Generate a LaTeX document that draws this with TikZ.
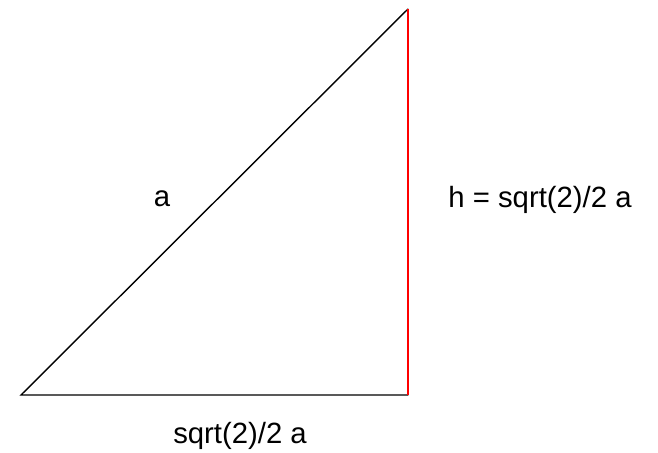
\documentclass[tikz,border=0pt]{standalone}
\usepackage{fontspec}
\setmainfont{Liberation Sans}
\usepackage{xcolor}
\definecolor{HLine}{HTML}{FF0000}

\begin{document}
\begin{tikzpicture}[x=0.03cm,y=-0.03cm,
  side/.style={line width=1.2pt,black},
  lbl/.style={font=\fontsize{25}{30}\selectfont,inner sep=0pt}]
\path[use as bounding box] (0,0) rectangle (658,453);
\coordinate (A) at (21,395);
\coordinate (B) at (408,395);
\coordinate (C) at (408,9);
\draw[side,line cap=round] (B) -- (A) -- (C);
\draw[HLine,line width=1.3pt] (B) -- (C);
\node[lbl] (hyp) at (162,199) {a};
\node[lbl] (height) at (540,200) {h = sqrt(2)/2 a};
\node[lbl] (base) at (240,436) {sqrt(2)/2 a};
\end{tikzpicture}
\end{document}
